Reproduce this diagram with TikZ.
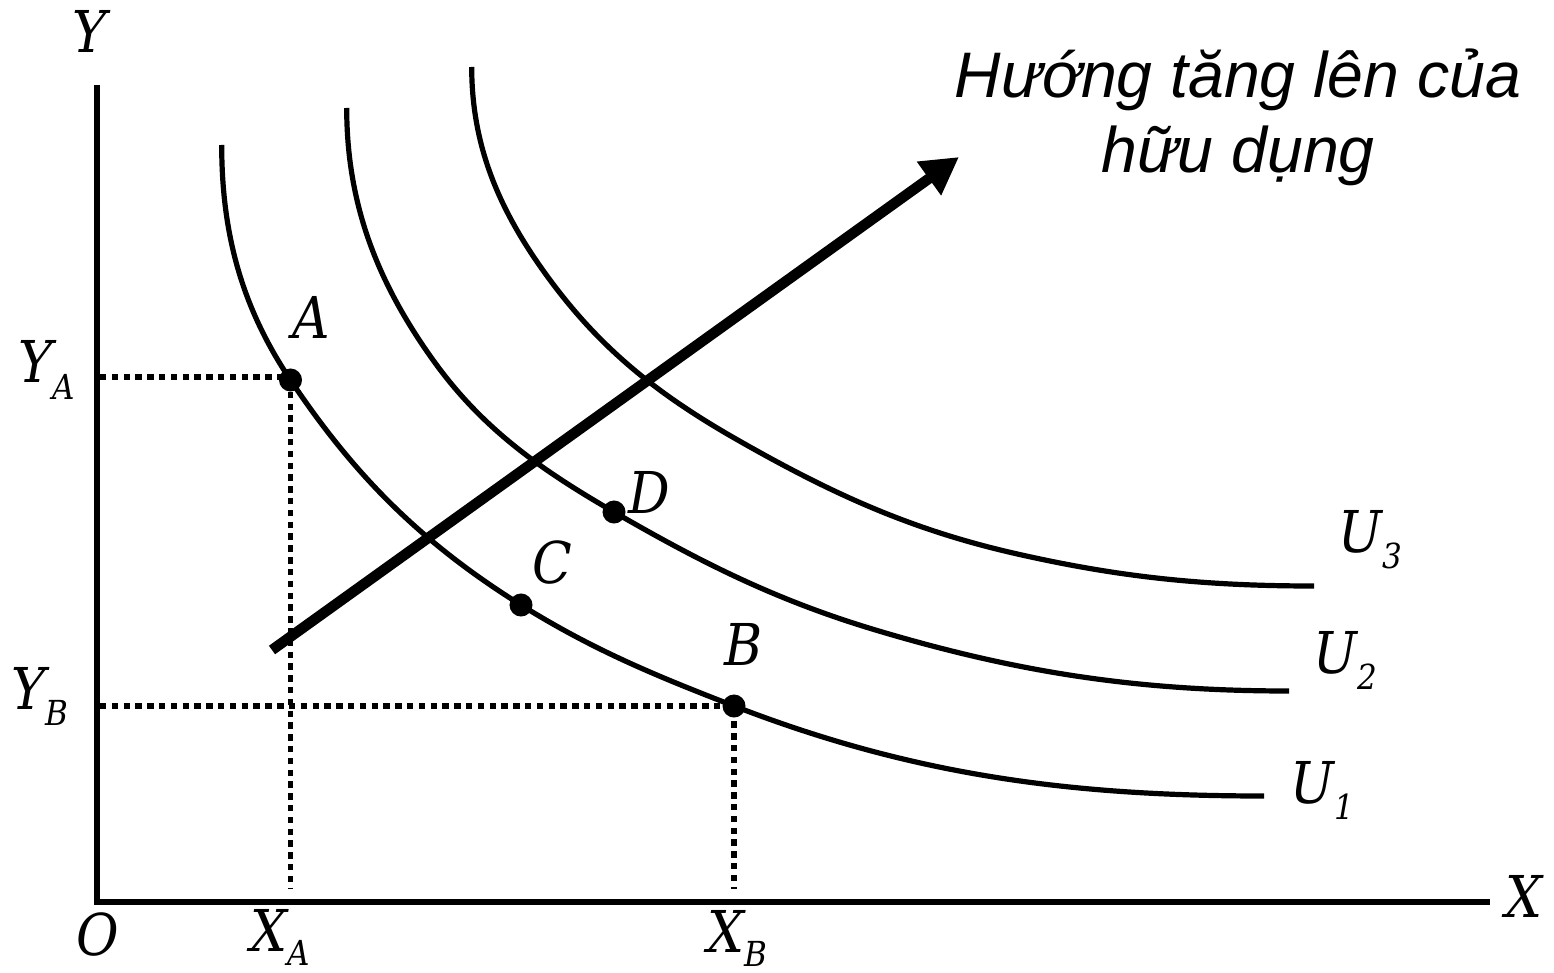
\documentclass[tikz,border=0pt]{standalone}
\usepackage{fontspec}
\usetikzlibrary{arrows.meta}
\newfontfamily\lblfont{DejaVu Serif Condensed Italic}
\newfontfamily\ttlfont{Liberation Sans}
\newcommand\mainsz{\fontsize{16.4}{18}\selectfont}
\newcommand\subsz{\fontsize{9.8}{11}\selectfont}
\newcommand\lsub[2]{#1\raisebox{-0.165cm}{\subsz #2}}
\newcommand\lsubx[2]{#1\raisebox{-0.14cm}{\subsz #2}}
\begin{document}
\begin{tikzpicture}[x=0.01cm,y=-0.01cm,
  lbl/.style={font=\lblfont\mainsz, inner sep=0pt},
  ttl/.style={font=\ttlfont\itshape\fontsize{18.3}{21.3}\selectfont, inner sep=0pt, anchor=base},
  axisline/.style={line width=0.056cm},
  curve/.style={line width=0.052cm},
  dotline/.style={line width=0.058cm, dash pattern=on 0.064cm off 0.054cm},
  pdot/.style={circle, fill=black, inner sep=0pt, minimum size=0.23cm},
  bigarrow/.style={line width=0.105cm, -{Triangle[length=0.37cm,width=0.39cm]}}]
\useasboundingbox (0,0) rectangle (1554,973);
% axes
\coordinate (O) at (97,902);
\coordinate (Ytop) at (97,85);
\coordinate (Xend) at (1490,902);
\draw[axisline] (Ytop) -- (O) -- (Xend);
% key points
\coordinate (pA) at (290.5,380);
\coordinate (pB) at (734,706);
\coordinate (pC) at (521,605);
\coordinate (pD) at (614,512);
% axis foot coordinates
\coordinate (yA) at (100,377);
\coordinate (yB) at (100,706);
\coordinate (xA) at (290.5,889);
\coordinate (xB) at (734,889);
% dotted guides
\draw[dotline] (yA) -- (pA |- yA) (pA) -- (xA);
\draw[dotline] (yB) -- (pB) -- (xB);
% U1
\draw[curve] (221.7,145) .. controls (221.7,233) and (241.5,307) .. (pA)
  .. controls (354.9,476.5) and (422.4,543.5) .. (pC)
  .. controls (593.3,650) and (655,675.4) .. (pB)
  .. controls (913.5,775.5) and (1071,796) .. (1264,796);
% U2
\draw[curve] (346.7,108) .. controls (346.7,204) and (377.3,282.2) .. (433,360)
  .. controls (482.3,428.9) and (540.5,469.5) .. (pD)
  .. controls (703,563.5) and (776.8,600.4) .. (875.5,630)
  .. controls (1019.2,673) and (1139,691) .. (1289,691);
% U3
\draw[curve] (471.7,67) .. controls (471.7,149) and (501.2,214.1) .. (550,280)
  .. controls (603,351.6) and (660.4,396) .. (737.7,440)
  .. controls (830.7,493) and (908.8,529) .. (1013,553)
  .. controls (1119.2,577.4) and (1205,586) .. (1314,586);
% direction arrow
\coordinate (arrS) at (272,650);
\coordinate (arrE) at (959,157);
\draw[bigarrow] (arrS) -- (arrE);
% dots
\node[pdot] (A) at (pA) {};
\node[pdot] (B) at (pB) {};
\node[pdot] (C) at (pC) {};
\node[pdot] (D) at (pD) {};
% labels
\node[lbl, anchor=base] (labY) at (90,53) {Y};
\node[lbl, anchor=base] (labX) at (1524,917) {X};
\node[lbl, anchor=base] (labO) at (98,955) {O};
\node[lbl, anchor=base] (labA) at (311,338) {A};
\node[lbl, anchor=base] (labB) at (744,665) {B};
\node[lbl, anchor=base] (labC) at (552,583) {C};
\node[lbl, anchor=base] (labD) at (649,513) {D};
\node[lbl, anchor=base west] (labYA) at (18,383) {\lsub{Y}{A}};
\node[lbl, anchor=base west] (labYB) at (11,709) {\lsub{Y}{B}};
\node[lbl, anchor=base west] (labXA) at (250,951) {\lsubx{X}{A}};
\node[lbl, anchor=base west] (labXB) at (707,952) {\lsubx{X}{B}};
\node[lbl, anchor=base west] (labU3) at (1338,552) {\lsub{U}{3}};
\node[lbl, anchor=base west] (labU2) at (1313,673) {\lsub{U}{2}};
\node[lbl, anchor=base west] (labU1) at (1290,803) {\lsub{U}{1}};
% title
\node[ttl] (t1) at (1238,98) {Hướng tăng lên của};
\node[ttl] (t2) at (1238,173) {hữu dụng};
\end{tikzpicture}
\end{document}
